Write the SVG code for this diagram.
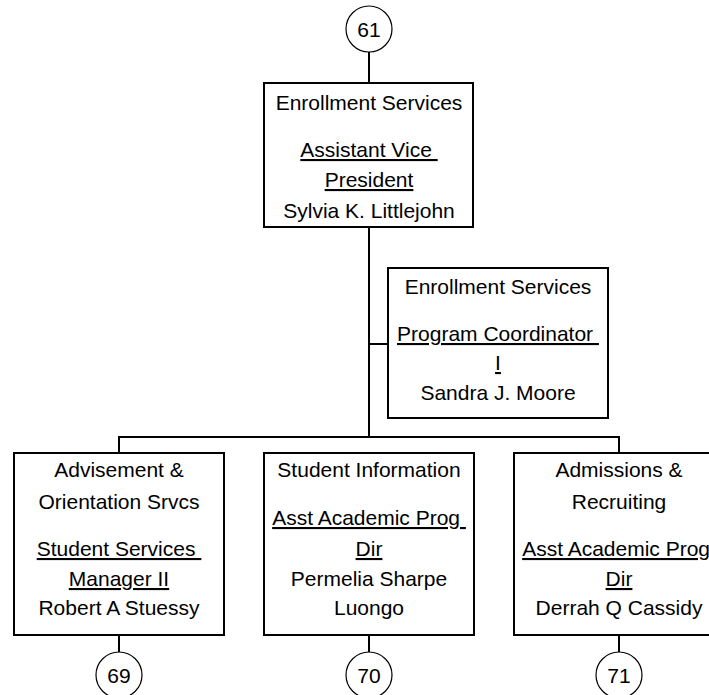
<svg xmlns="http://www.w3.org/2000/svg" width="709" height="695" viewBox="0 0 709 695">
<style>
.box{fill:#fff;stroke:#000;stroke-width:2}
.ref{fill:#fff;stroke:#000;stroke-width:1.2}
.ln{stroke:#000;stroke-width:2;fill:none}
text{font-family:"Liberation Sans",Arial,sans-serif;font-size:21px;fill:#000;text-anchor:middle}
.u{text-decoration:underline}
</style>
<rect width="709" height="695" fill="#fff"/>
<g id="connectors">
<line class="ln" x1="369" y1="52" x2="369" y2="83"/>
<line class="ln" x1="369" y1="227" x2="369" y2="437"/>
<line class="ln" x1="369" y1="344" x2="388" y2="344"/>
<line class="ln" x1="119" y1="437" x2="619" y2="437"/>
<line class="ln" x1="119" y1="436" x2="119" y2="453"/>
<line class="ln" x1="619" y1="436" x2="619" y2="453"/>
<line class="ln" x1="119" y1="635" x2="119" y2="652"/>
<line class="ln" x1="369" y1="635" x2="369" y2="652"/>
<line class="ln" x1="619" y1="635" x2="619" y2="652"/>
</g>
<g id="ref61">
<circle class="ref" cx="369" cy="29" r="23"/>
<text x="369" y="37">61</text>
</g>
<g id="avp">
<rect class="box" x="264" y="83" width="209" height="144"/>
<text x="369" y="110">Enrollment Services</text>
<text x="369" y="157" class="u" xml:space="preserve">Assistant Vice </text>
<text x="369" y="187" class="u">President</text>
<text x="369" y="218">Sylvia K. Littlejohn</text>
</g>
<g id="coord">
<rect class="box" x="388" y="268" width="220" height="150"/>
<text x="498" y="294">Enrollment Services</text>
<text x="498" y="341" class="u" xml:space="preserve">Program Coordinator </text>
<text x="498" y="370" class="u">I</text>
<text x="498" y="400">Sandra J. Moore</text>
</g>
<g id="advise">
<rect class="box" x="14" y="453" width="210" height="182"/>
<text x="119" y="477">Advisement &amp;</text>
<text x="119" y="509">Orientation Srvcs</text>
<text x="119" y="556" class="u" xml:space="preserve">Student Services </text>
<text x="119" y="586" class="u">Manager II</text>
<text x="119" y="615">Robert A Stuessy</text>
</g>
<g id="studinfo">
<rect class="box" x="264" y="453" width="210" height="182"/>
<text x="369" y="477">Student Information</text>
<text x="369" y="525" class="u" xml:space="preserve">Asst Academic Prog </text>
<text x="369" y="556" class="u">Dir</text>
<text x="369" y="586">Permelia Sharpe</text>
<text x="369" y="615">Luongo</text>
</g>
<g id="admiss">
<rect class="box" x="514" y="453" width="210" height="182"/>
<text x="619" y="477">Admissions &amp;</text>
<text x="619" y="509">Recruiting</text>
<text x="619" y="556" class="u" xml:space="preserve">Asst Academic Prog </text>
<text x="619" y="586" class="u">Dir</text>
<text x="619" y="615">Derrah Q Cassidy</text>
</g>
<g id="ref69">
<circle class="ref" cx="119" cy="675" r="23"/>
<text x="119" y="683">69</text>
</g>
<g id="ref70">
<circle class="ref" cx="369" cy="675" r="23"/>
<text x="369" y="683">70</text>
</g>
<g id="ref71">
<circle class="ref" cx="619" cy="675" r="23"/>
<text x="619" y="683">71</text>
</g>
</svg>
